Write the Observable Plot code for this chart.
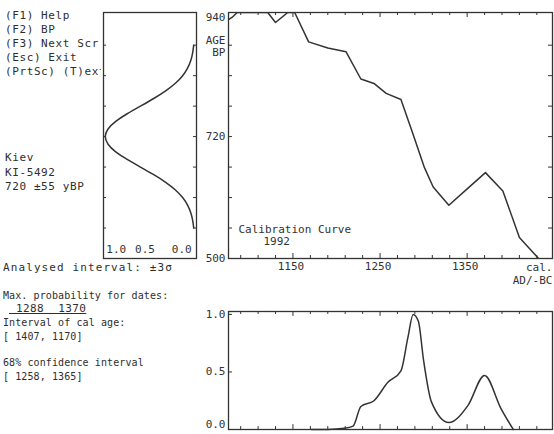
<!DOCTYPE html>
<html><head><meta charset="utf-8">
<script src="https://cdn.jsdelivr.net/npm/d3@7"></script>
<script src="https://cdn.jsdelivr.net/npm/@observablehq/plot@0.6"></script>
<style>
body{margin:0;background:#fff;}
#root{position:relative;width:554px;height:434px;overflow:hidden;background:#fff;font-family:"DejaVu Sans Mono",monospace;color:#2e2e2e;}
.t{position:absolute;white-space:pre;font-size:11px;line-height:12px;letter-spacing:0.5px;}
.s{font-size:10px;letter-spacing:0.1px;}
.p{position:absolute;}
</style></head><body><div id="root"></div>
<script>
// ---- data ----
const calYear = [1076, 1080, 1086, 1121, 1130, 1144, 1152, 1168, 1190, 1211, 1228, 1243, 1257, 1274, 1288, 1301, 1311, 1329, 1351, 1371, 1391, 1410, 1432];
const calBP   = [ 931,  935,  944,  944,  926,  944,  944,  891,  880,  873,  824,  816,  798,  787,  724,  664,  629,  596,  627,  655,  622,  538,  500];

const probYear  = [1171, 1190, 1209, 1219, 1228, 1243, 1259, 1274, 1282, 1288, 1294, 1300, 1309, 1329, 1351, 1370, 1389, 1403];
const probValue = [0.00, 0.00, 0.01, 0.03, 0.20, 0.25, 0.41, 0.51, 0.80, 1.00, 0.94, 0.60, 0.24, 0.06, 0.21, 0.47, 0.18, 0.00];

const gaussBP      = [885, 871.25, 857.5, 843.75, 830, 816.25, 802.5, 788.75, 775, 761.25, 747.5, 733.75, 720, 706.25, 692.5, 678.75, 665, 651.25, 637.5, 623.75, 610, 596.25, 582.5, 568.75, 555];
const gaussDensity = [0.011, 0.023, 0.044, 0.080, 0.135, 0.216, 0.325, 0.458, 0.607, 0.755, 0.883, 0.969, 1.0, 0.969, 0.883, 0.755, 0.607, 0.458, 0.325, 0.216, 0.135, 0.080, 0.044, 0.023, 0.011];

const bpTickLabels = [940, 720, 500];
const bpTicks = [555, 610, 665, 720, 775, 830, 885];
const yearTickLabels = [1150, 1250, 1350];
const yearTicks = [1090, 1110, 1130, 1150, 1170, 1190, 1210, 1230, 1250, 1270, 1290, 1310, 1330, 1350, 1370, 1390, 1410, 1430];
const probTickLabels = [0.0, 0.5, 1.0];
const densityTickLabels = [1.0, 0.5, 0.0];

const infoLines = ["(F1) Help", "(F2) BP", "(F3) Next Scr", "(Esc) Exit", "(PrtSc) (T)ext"];
const sampleLines = ["Kiev", "KI-5492", "720 \u00b155 yBP"];

// ---- helpers ----
const ink = "#333";
const calData = calYear.map((x, i) => ({x, y: calBP[i]}));
const probData = probYear.map((x, i) => ({x, y: probValue[i]}));
const gaussData = gaussBP.map((y, i) => ({x: gaussDensity[i], y}));
const root = document.getElementById("root");
const style = {fontFamily: "DejaVu Sans Mono, monospace", fontSize: "11px", color: ink, background: "transparent"};

function place(el, left, top, bg) {
  el.classList.add("p");
  el.style.left = left + "px";
  el.style.top = top + "px";
  if (bg) el.style.background = bg;
  root.appendChild(el);
}
function txt(s, left, cy, cls, extra) {
  const d = document.createElement("div");
  d.className = "t" + (cls ? " " + cls : "");
  d.textContent = s;
  d.style.left = left + "px";
  d.style.top = (cy - 6) + "px";
  if (extra) Object.assign(d.style, extra);
  root.appendChild(d);
  return d;
}

// ---- left text ----
infoLines.forEach((s, i) => txt(s, 5, 16 + i * 14, "", {letterSpacing: "0.6px"}));
sampleLines.forEach((s, i) => txt(s, 5, 158 + i * 14.5, "", {letterSpacing: "0.6px"}));
txt("Analysed interval: \u00b13\u03c3", 3, 268, "", {letterSpacing: "1.1px"});
txt("Max. probability for dates:", 3, 296, "s");
txt(" 1288  1370", 9, 309, "", {textDecoration: "underline", letterSpacing: "0.4px"});
txt("Interval of cal age:", 3, 323, "s");
txt("[ 1407, 1170]", 3, 337, "s");
txt("68% confidence interval", 3, 363, "s");
txt("[ 1258, 1365]", 3, 377, "s");

// ---- main calibration plot ----
const yDom = [500, 944];
const xDom = [1076, 1448];
const kx = 324 / (xDom[1] - xDom[0]);
const ky = 246 / (yDom[1] - yDom[0]);

const main = Plot.plot({
  width: 359, height: 290,
  marginLeft: 33, marginRight: 2, marginTop: 12, marginBottom: 32,
  x: {domain: xDom, axis: null},
  y: {domain: yDom, axis: null},
  style,
  marks: [
    Plot.frame({stroke: ink, strokeWidth: 1.3}),
    Plot.ruleY(bpTicks, {y: d => d, x1: xDom[0], x2: xDom[0] + 4 / kx, stroke: ink}),
    Plot.ruleY(bpTicks, {y: d => d, x1: xDom[1], x2: xDom[1] - 4 / kx, stroke: ink}),
    Plot.ruleX(yearTicks, {x: d => d, y1: yDom[1], y2: d => yDom[1] - (yearTickLabels.includes(d) ? 5 : 3) / ky, stroke: ink}),
    Plot.ruleX(yearTicks, {x: d => d, y1: yDom[0], y2: d => yDom[0] + (yearTickLabels.includes(d) ? 5 : 3) / ky, stroke: ink}),
    Plot.text(bpTickLabels.filter(d => d !== 940), {x: xDom[0], y: d => d, text: d => String(d), dx: -3, textAnchor: "end"}),
    Plot.text(bpTickLabels.filter(d => d === 940), {x: xDom[0], y: d => d, text: d => String(d), dx: -3, dy: 3, textAnchor: "end"}),
    Plot.text(["AGE"], {frameAnchor: "top-left", dx: -3, dy: 24, textAnchor: "end"}),
    Plot.text(["BP"], {frameAnchor: "top-left", dx: -3, dy: 36, textAnchor: "end"}),
    Plot.text(yearTickLabels, {x: d => d, y: yDom[0], text: d => String(d), dx: -2, dy: 4, lineAnchor: "top"}),
    Plot.text(["cal.\nAD/-BC"], {frameAnchor: "bottom-right", textAnchor: "end", lineAnchor: "top", dy: 4, lineHeight: 1.15}),
    Plot.text(["Calibration Curve"], {frameAnchor: "bottom-left", textAnchor: "start", dx: 10, dy: -26}),
    Plot.text(["1992"], {frameAnchor: "bottom-left", textAnchor: "start", dx: 35, dy: -14}),
    Plot.line(calData, {x: "x", y: "y", stroke: ink, strokeWidth: 1.5, clip: true})
  ]
});
place(main, 195, 0);

// ---- gaussian (radiocarbon date) panel ----
const gDom = [1.02, -0.02];
const gk = 92 / 1.04;
const gauss = Plot.plot({
  width: 104, height: 260,
  marginLeft: 2, marginRight: 9, marginTop: 12, marginBottom: 2,
  x: {domain: gDom, axis: null},
  y: {domain: yDom, axis: null},
  style,
  marks: [
    Plot.frame({stroke: ink, strokeWidth: 1.3}),
    Plot.ruleY(bpTicks, {y: d => d, x1: gDom[0], x2: gDom[0] - 3 / gk, stroke: ink}),
    Plot.ruleY(bpTicks, {y: d => d, x1: gDom[1], x2: gDom[1] + 3 / gk, stroke: ink}),
    Plot.text(densityTickLabels.filter(d => d === 1), {x: d => d, text: d => d.toFixed(1), frameAnchor: "bottom", textAnchor: "start", dy: -6, dx: 1}),
    Plot.text(densityTickLabels.filter(d => d === 0.5), {x: d => d, text: d => d.toFixed(1), frameAnchor: "bottom", textAnchor: "middle", dy: -6, dx: -5}),
    Plot.text(densityTickLabels.filter(d => d === 0), {x: d => d, text: d => d.toFixed(1), frameAnchor: "bottom", textAnchor: "end", dy: -6, dx: -3}),
    Plot.line(gaussData, {x: "x", y: "y", curve: "natural", stroke: ink, strokeWidth: 1.5})
  ]
});
place(gauss, 101, 0, "#fff");

// ---- probability panel ----
const pDom = [0, 1.025];
const pk = 121 / 1.025;
const prob = Plot.plot({
  width: 359, height: 138,
  marginLeft: 33, marginRight: 2, marginTop: 15, marginBottom: 5,
  x: {domain: xDom, axis: null},
  y: {domain: pDom, axis: null},
  style,
  marks: [
    Plot.frame({stroke: ink, strokeWidth: 1.3}),
    Plot.ruleY(probTickLabels, {y: d => d, x1: xDom[0], x2: xDom[0] + 4 / kx, stroke: ink}),
    Plot.ruleX(yearTicks, {x: d => d, y1: pDom[1], y2: d => pDom[1] - (yearTickLabels.includes(d) ? 5 : 3) / pk, stroke: ink}),
    Plot.ruleX(yearTicks, {x: d => d, y1: pDom[0], y2: d => pDom[0] + (yearTickLabels.includes(d) ? 5 : 3) / pk, stroke: ink}),
    Plot.text(probTickLabels.filter(d => d !== 0), {x: xDom[0], y: d => d, text: d => d.toFixed(1), dx: -3, textAnchor: "end"}),
    Plot.text(probTickLabels.filter(d => d === 0), {x: xDom[0], y: d => d, text: d => d.toFixed(1), dx: -3, dy: -5, textAnchor: "end"}),
    Plot.line(probData, {x: "x", y: "y", curve: "monotone-x", stroke: ink, strokeWidth: 1.5})
  ]
});
place(prob, 195, 296);
</script></body></html>
